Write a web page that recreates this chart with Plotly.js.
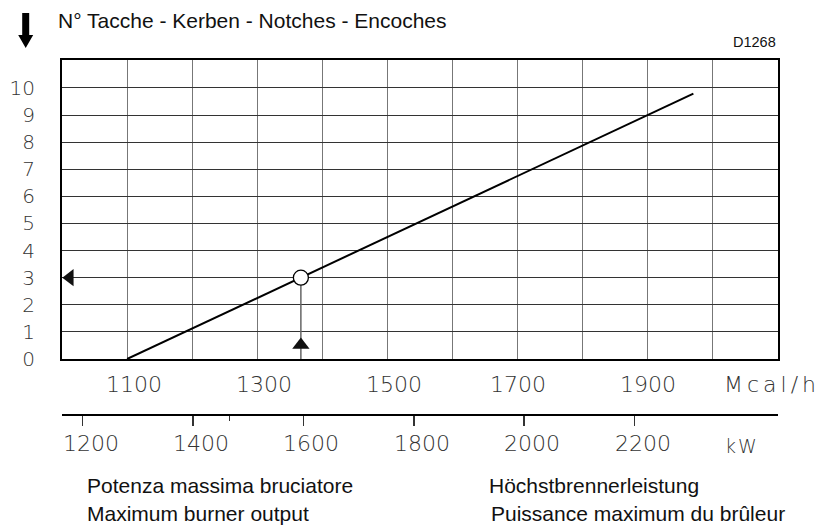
<!DOCTYPE html>
<html>
<head>
<meta charset="utf-8">
<script src="https://cdn.plot.ly/plotly-3.0.1.min.js"></script>
<style>
html,body{margin:0;padding:0;background:#fff;}
#chart{width:827px;height:525px;}
</style>
</head>
<body>
<div id="chart"></div>
<script>
// ---- data ----
const curveMcal = [1100, 1970];          // Mcal/h
const curveNotches = [0, 9.79];          // notches
const setPointMcal = [1367];             // example working point
const setPointNotch = [3];
const notchTicks = [0,1,2,3,4,5,6,7,8,9,10];
const mcalLabels = [1100, 1300, 1500, 1700, 1900];
const kwLabels = [1200, 1400, 1600, 1800, 2000, 2200];
const kwMinor = [1466];
const mcalPerKw = 0.86;
const xMin = 1000, xMax = 2100;

// ---- geometry helpers (paper area: x 62..788 px, y 60..415 px) ----
const L = 62, R = 788, T = 60, B = 415, plotRight = 778, plotBottom = 359;
const W = R - L, H = B - T;
const px = v => (v - L) / W;
const py = v => (B - v) / H;

const gridVals = [];
for (let v = xMin; v <= xMax; v += 100) gridVals.push(v);
const kwRange = [xMin / mcalPerKw, (xMin + (xMax - xMin) * W / (plotRight - L)) / mcalPerKw];

const thinFamily = "'DejaVu Sans ExtraLight', 'DejaVu Sans'";
const labFont = {family: thinFamily, size: 22, color: '#333', weight: 200};
const txtFont = {family: 'Liberation Sans, Arial, sans-serif', size: 21, color: '#111'};

const traces = [
  {x: curveMcal, y: curveNotches, mode: 'lines', line: {color: '#000', width: 2}, hoverinfo: 'skip'},
  {x: [setPointMcal[0], setPointMcal[0]], y: [0, setPointNotch[0]], mode: 'lines',
   line: {color: '#666', width: 1.5}, hoverinfo: 'skip'},
  {x: setPointMcal, y: setPointNotch, mode: 'markers',
   marker: {symbol: 'circle', size: 15, color: '#fff', line: {color: '#000', width: 1.3}}, hoverinfo: 'skip'},
  {x: [xMin + 12], y: setPointNotch, mode: 'markers', cliponaxis: false,
   marker: {symbol: 'triangle-left', size: 15, color: '#111'}, hoverinfo: 'skip'},
  {x: setPointMcal, y: [0.52], mode: 'markers',
   marker: {symbol: 'triangle-up', size: 15, color: '#111'}, hoverinfo: 'skip'},
  {x: kwLabels, y: kwLabels.map(() => null), xaxis: 'x2', yaxis: 'y', mode: 'markers', hoverinfo: 'skip'}
];

const annotations = [];
mcalLabels.forEach(v => annotations.push({
  x: v, xref: 'x', y: py(384), yref: 'paper', text: String(v), showarrow: false,
  xanchor: 'center', yanchor: 'middle', xshift: v < 1600 ? 7 : 0, font: labFont
}));
kwLabels.forEach(v => annotations.push({
  x: v, xref: 'x2', y: py(444), yref: 'paper', text: String(v), showarrow: false,
  xanchor: 'center', yanchor: 'middle', xshift: 8, font: labFont
}));
annotations.push({x: px(772), xref: 'paper', y: py(384), yref: 'paper', showarrow: false,
  text: '<span style="letter-spacing:4px">Mcal/h</span>', xanchor: 'center', yanchor: 'middle', font: labFont});
annotations.push({x: px(742), xref: 'paper', y: py(446), yref: 'paper', showarrow: false,
  text: '<span style="letter-spacing:2px">kW</span>', xanchor: 'center', yanchor: 'middle',
  font: Object.assign({}, labFont, {size: 19})});
annotations.push({x: px(plotRight), xref: 'paper', y: py(42), yref: 'paper', showarrow: false,
  text: 'D1268', xanchor: 'right', yanchor: 'middle',
  font: {family: 'Liberation Sans, Arial, sans-serif', size: 14.5, color: '#111'}});
[['Potenza massima bruciatore', 85, 485], ['Maximum burner output', 85, 513],
 ['Höchstbrennerleistung', 487, 485], ['Puissance maximum du brûleur', 489, 513]].forEach(a =>
  annotations.push({x: px(a[1]), xref: 'paper', y: py(a[2]), yref: 'paper', showarrow: false,
    text: a[0], xanchor: 'left', yanchor: 'middle', font: txtFont}));

// down arrow at top-left (decoration)
const ax = 25.7;
const arrowPath = `M ${px(ax-3.5)} ${py(13)} L ${px(ax+3.5)} ${py(13)} L ${px(ax+3.5)} ${py(35)} ` +
  `L ${px(ax+7.5)} ${py(35)} L ${px(ax)} ${py(48)} L ${px(ax-7.5)} ${py(35)} L ${px(ax-3.5)} ${py(35)} Z`;

const layout = {
  width: 827, height: 525,
  margin: {l: L, r: 827 - R, t: T, b: 525 - B, pad: 0},
  paper_bgcolor: '#fff', plot_bgcolor: '#fff',
  showlegend: false,
  title: {text: 'N° Tacche - Kerben - Notches - Encoches', x: 58 / 827, xanchor: 'left',
          y: 1 - 21 / 525, yanchor: 'middle', font: txtFont},
  xaxis: {domain: [0, (plotRight - L) / W], range: [xMin, xMax], tickvals: gridVals,
          showticklabels: false, ticks: '', showgrid: true, gridcolor: '#777', gridwidth: 1,
          showline: true, mirror: true, linecolor: '#000', linewidth: 2, zeroline: false, fixedrange: true},
  yaxis: {domain: [py(plotBottom), 1], range: [0, 11.03], tickvals: notchTicks,
          ticks: '', showgrid: true, gridcolor: '#333', gridwidth: 1, ticklabelstandoff: 21,
          tickfont: {family: thinFamily, size: 20, color: '#333', weight: 200},
          showline: true, mirror: true, linecolor: '#000', linewidth: 2, zeroline: false, fixedrange: true},
  xaxis2: {overlaying: 'x', anchor: 'free', position: 0, domain: [0, 1], range: kwRange,
           side: 'bottom', tickvals: kwLabels, showticklabels: false, ticks: 'outside', ticklen: 10,
           tickwidth: 1.5, tickcolor: '#333', showgrid: false, zeroline: false,
           showline: true, linecolor: '#000', linewidth: 2,
           minor: {tickvals: kwMinor, ticks: 'outside', ticklen: 5, tickwidth: 1.5, tickcolor: '#333', showgrid: false},
           fixedrange: true},
  annotations: annotations,
  shapes: [{type: 'path', xref: 'paper', yref: 'paper', path: arrowPath,
            fillcolor: '#000', line: {color: '#000', width: 0}}]
};

Plotly.newPlot('chart', traces, layout, {displayModeBar: false, staticPlot: true});
</script>
</body>
</html>
